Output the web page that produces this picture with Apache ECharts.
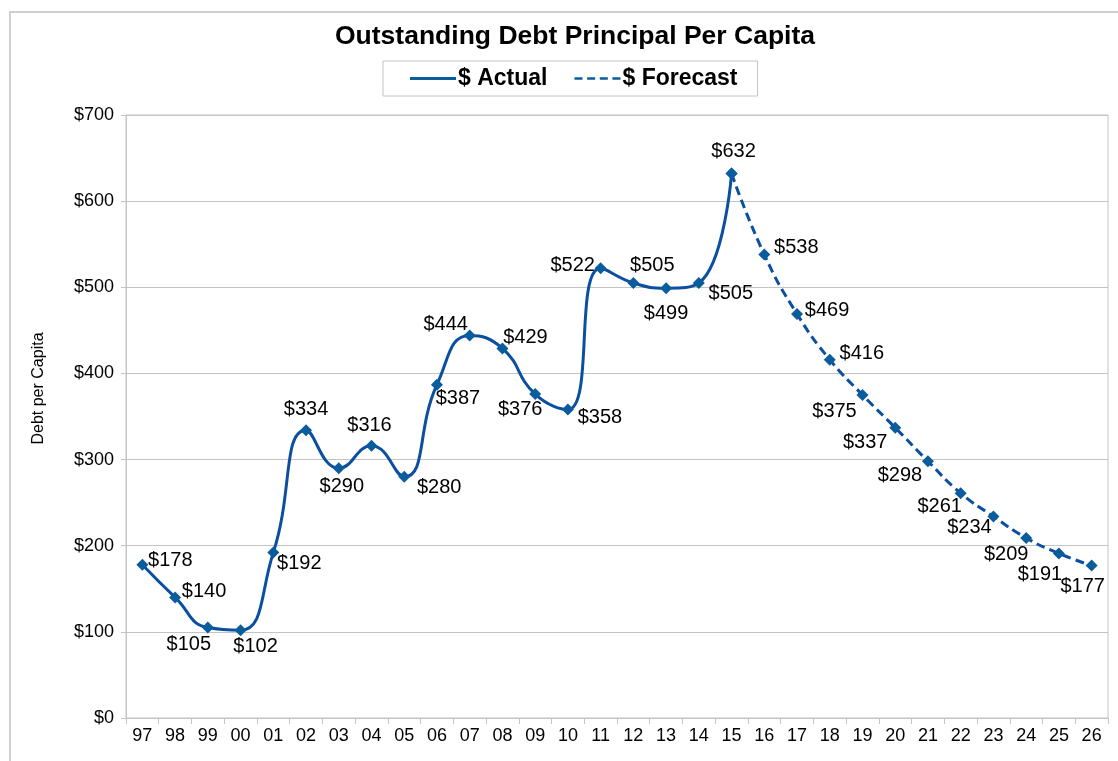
<!DOCTYPE html>
<html>
<head>
<meta charset="utf-8">
<script src="https://cdn.jsdelivr.net/npm/echarts@6/dist/echarts.min.js"></script>
<style>
  html, body { margin: 0; padding: 0; background: #fff; }
  #chart { width: 1118px; height: 761px; }
</style>
</head>
<body>
<div id="chart"></div>
<script>
  // years shown on the x axis
  let years = ['97','98','99','00','01','02','03','04','05','06','07','08','09','10','11',
               '12','13','14','15','16','17','18','19','20','21','22','23','24','25','26'];
  // actual debt per capita, 97 - 15
  let actual = [178, 140, 105, 102, 192, 334, 290, 316, 280, 387, 444, 429, 376, 358, 522,
                505, 499, 505, 632];
  // forecast, 15 - 26 (starts at the last actual point)
  let forecast = [632, 538, 469, 416, 375, 337, 298, 261, 234, 209, 191, 177];
  let yTicks = [0, 100, 200, 300, 400, 500, 600, 700];

  // where each value label sits relative to its marker (dx, dy)
  let labelShift = [
    [28,-4],[29,-6],[-19,17],[15,16],[26,11],[0,-21],[3,18],[-2,-20],[35,11],[21,14],
    [-24,-11],[23,-11],[-15,15],[32,8],[-28,-3],[19,-17],[0,25],[32,11],[2,-22],[32,-7],
    [30,-4],[32,-6],[-28,17],[-30,15],[-28,14],[-21,13],[-24,11],[-20,17],[-19,21],[-9,21]
  ];

  const lineColor = '#0b4fa0';
  const markColor = '#0a5d9d';
  const gridColor = '#c4c4c4';
  const firstForecast = years.length - forecast.length;

  function withLabel(v, i, show) {
    if (v == null) return null;
    return {
      value: v,
      label: {
        show: show,
        position: 'inside',
        offset: labelShift[i]
      }
    };
  }

  let actualData = years.map((y, i) => withLabel(i < actual.length ? actual[i] : null, i, true));
  let forecastData = years.map((y, i) => {
    if (i < firstForecast) return null;
    // the joint point is already labelled by the actual series
    return withLabel(forecast[i - firstForecast], i, i !== firstForecast);
  });

  let chart = echarts.init(document.getElementById('chart'));
  let option = {
    animation: false,
    backgroundColor: '#fff',
    textStyle: { fontFamily: 'Liberation Sans, Arial, sans-serif' },
    graphic: [{
      type: 'rect',
      shape: { x: 10, y: 12, width: 1200, height: 800 },
      style: { fill: 'none', stroke: '#d0d0d0', lineWidth: 2 },
      silent: true
    }],
    title: {
      text: 'Outstanding Debt Principal Per Capita',
      left: 570,
      top: 18,
      textAlign: 'center',
      textStyle: { fontSize: 26.5, fontWeight: 'bold', color: '#000' }
    },
    legend: {
      left: 383,
      top: 61,
      padding: [6, 20, 6, 27],
      itemGap: 27,
      itemWidth: 46,
      itemHeight: 3,
      borderColor: '#c4c4c4',
      borderWidth: 1,
      textStyle: { fontSize: 23, fontWeight: 'bold', color: '#000', padding: [0, 0, 0, -3] },
      data: [
        { name: '$ Actual', icon: 'rect' },
        { name: '$ Forecast', icon: 'path://M0 0H7V2H0Z M11 0H18V2H11Z M22 0H29V2H22Z M33 0H40V2H33Z' }
      ]
    },
    grid: {
      left: 126,
      right: 10,
      top: 115,
      bottom: 43,
      show: true,
      borderColor: gridColor,
      borderWidth: 1
    },
    xAxis: {
      type: 'category',
      data: years,
      boundaryGap: true,
      axisLine: { lineStyle: { color: gridColor } },
      axisTick: { show: true, length: 6, lineStyle: { color: gridColor } },
      axisLabel: { fontSize: 18, color: '#000', margin: 9 }
    },
    yAxis: {
      type: 'value',
      min: yTicks[0],
      max: yTicks[yTicks.length - 1],
      interval: 100,
      name: 'Debt per Capita',
      nameLocation: 'middle',
      nameGap: 79,
      nameTextStyle: { fontSize: 16, color: '#000', padding: [0, 0, 0, 56] },
      axisLine: { show: true, lineStyle: { color: gridColor } },
      axisTick: { show: true, length: 5, lineStyle: { color: gridColor } },
      splitLine: { lineStyle: { color: gridColor } },
      axisLabel: { fontSize: 18, color: '#000', margin: 12, formatter: v => '$' + v }
    },
    series: [
      {
        name: '$ Actual',
        type: 'line',
        data: actualData,
        smooth: 0.5,
        symbol: 'diamond',
        symbolSize: 12,
        connectNulls: false,
        lineStyle: { color: lineColor, width: 3 },
        itemStyle: { color: markColor },
        label: { fontSize: 20, color: '#000', formatter: p => '$' + p.value },
        z: 3
      },
      {
        name: '$ Forecast',
        type: 'line',
        data: forecastData,
        smooth: 0.5,
        symbol: 'diamond',
        symbolSize: 12,
        lineStyle: { color: lineColor, width: 3, type: [9, 5] },
        itemStyle: { color: markColor },
        label: { fontSize: 20, color: '#000', formatter: p => '$' + p.value },
        z: 2
      }
    ]
  };
  chart.setOption(option);
</script>
</body>
</html>
